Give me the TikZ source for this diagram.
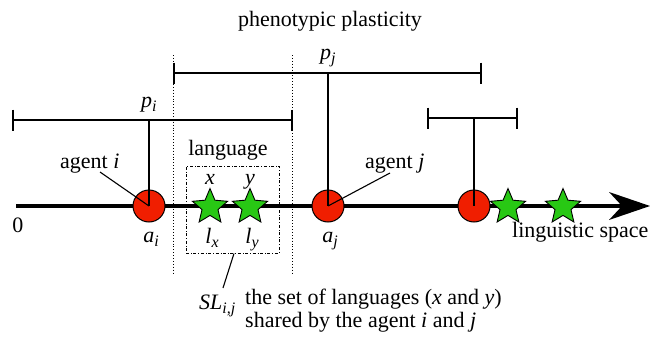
\documentclass[tikz,border=0pt]{standalone}
\usepackage{fontspec}
\setmainfont{Liberation Serif}
\usetikzlibrary{shapes.geometric,calc}
\definecolor{agentred}{RGB}{240,30,0}
\definecolor{langgreen}{RGB}{40,200,20}
\newcommand\subs[1]{\raisebox{-0.22em}{\fontsize{16}{16}\selectfont\itshape #1}}
\begin{document}
\begin{tikzpicture}[x=1pt,y=-1pt,
  txt/.style={font=\fontsize{22}{26}\selectfont, inner sep=0pt},
  agent/.style={circle, draw=black, line width=1pt, fill=agentred, minimum size=32pt, inner sep=0pt},
  lang/.style={star, star points=5, star point ratio=2.2, draw=black, line width=0.9pt, fill=langgreen, minimum size=37pt, inner sep=0pt},
  bar/.style={line width=2.6pt},
  tick/.style={line width=2.6pt},
  link/.style={line width=1.1pt},
  guide/.style={dotted, line width=0.9pt},
]
\useasboundingbox (0,0) rectangle (650,340);

% dotted guides
\coordinate (g1t) at (173,55); \coordinate (g1b) at (173,273);
\coordinate (g2t) at (292,55); \coordinate (g2b) at (292,273);
\draw[guide] (g1t) -- (g1b);
\draw[guide] (g2t) -- (g2b);

% axis
\coordinate (ax0) at (16,206);
\coordinate (axe) at (622,206);
\coordinate (tip) at (650,206);
\draw[line width=4.2pt] (ax0) -- (axe);
\fill (tip) -- (609,192) -- (axe) -- (609,220) -- cycle;

% language box
\node[draw, dash dot, line width=0.9pt, minimum width=93pt, minimum height=87pt, inner sep=0pt] (lbox) at (232.5,209.5) {};

% agents
\node[agent] (ai) at (149,206) {};
\node[agent] (aj) at (328,206) {};
\node[agent] (ak) at (474,206) {};

% languages
\node[lang] (lx) at (210,207) {};
\node[lang] (ly) at (250,207) {};
\node[lang] (l3) at (508,207) {};
\node[lang] (l4) at (563,207) {};

% plasticity bars
\coordinate (pil) at (13,120); \coordinate (pir) at (292,120); \coordinate (pim) at (149,120);
\coordinate (pjl) at (174,73); \coordinate (pjr) at (481,73); \coordinate (pjm) at (328,73);
\coordinate (pkl) at (428,118); \coordinate (pkr) at (517,118); \coordinate (pkm) at (474,118);
\draw[bar] (pil) -- (pir);
\draw[bar] (pjl) -- (pjr);
\draw[bar] (pkl) -- (pkr);
\foreach \c in {pil,pir,pjl,pjr,pkl,pkr}{
  \draw[tick] ($(\c)+(0,-10.5)$) -- ($(\c)+(0,10.5)$);
}
\draw[link] (pim) -- (ai.center);
\draw[link] (pjm) -- (aj.center);
\draw[link] (pkm) -- (ak.center);

% texts
\node[txt, anchor=base] (title) at (330,27) {phenotypic plasticity};
\node[txt, anchor=base west] (pi) at (141,107) {\textit{p}\subs{i}};
\node[txt, anchor=base west] (pj) at (320,59) {\textit{p}\subs{j}};
\node[txt, anchor=base west] (agi) at (60,168) {agent \textit{i}};
\node[txt, anchor=base west] (agj) at (365,168) {agent \textit{j}};
\node[txt, anchor=base] (language) at (228,155) {language};
\node[txt, anchor=base] (xl) at (210,184) {\textit{x}};
\node[txt, anchor=base] (yl) at (250,184) {\textit{y}};
\node[txt, anchor=base] (lxl) at (212,243) {\textit{l}\subs{x}};
\node[txt, anchor=base] (lyl) at (252,243) {\textit{l}\subs{y}};
\node[txt, anchor=base] (ail) at (151,242) {\textit{a}\subs{i}};
\node[txt, anchor=base] (ajl) at (330,242) {\textit{a}\subs{j}};
\node[txt, anchor=base] (zero) at (18,232) {0};
\node[txt, anchor=base west] (space) at (512,237) {linguistic space};
\node[txt, anchor=base west] (sl) at (199,309) {\textit{SL}\subs{i,j}};
\node[txt, anchor=base west] (desc1) at (245,304) {the set of languages (\textit{x} and \textit{y})};
\node[txt, anchor=base west] (desc2) at (245,327) {shared by the agent \textit{i} and \textit{j}};

% pointer lines
\coordinate (agiend) at (100,172);
\coordinate (agjend) at (390,173);
\coordinate (slend) at (223,288);
\draw[link] (agiend) -- (ai.center);
\draw[link] (agjend) -- (aj.center);
\draw[link] (slend) -- ($(lbox.south)+(1.5,0)$);
\end{tikzpicture}
\end{document}
